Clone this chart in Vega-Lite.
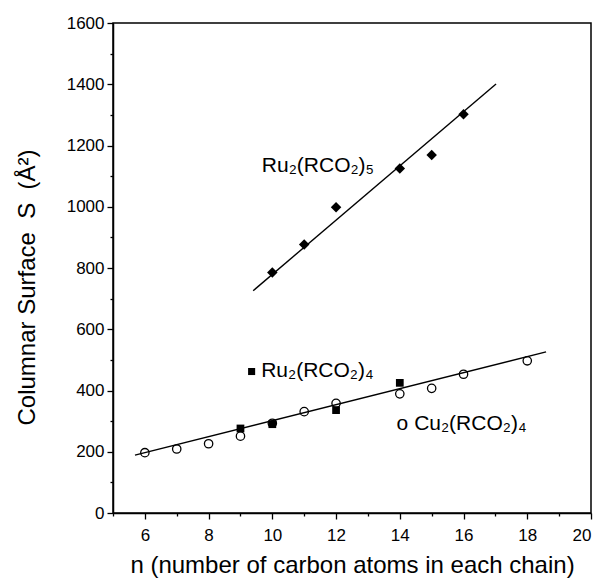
{
  "$schema": "https://vega.github.io/schema/vega-lite/v6.json",
  "width": 478,
  "height": 490,
  "autosize": {"type": "none"},
  "padding": {"left": 113, "top": 23, "right": 12, "bottom": 67},
  "background": "white",
  "config": {
    "font": "Liberation Sans",
    "view": {"stroke": "black", "strokeWidth": 1.5},
    "axis": {"domainColor": "black", "tickColor": "black", "labelColor": "black", "titleColor": "black", "grid": false, "domainWidth": 1.5, "tickWidth": 1.3}
  },
  "resolve": {"axis": {"x": "independent", "y": "independent"}},
  "datasets": {
    "pts": [
      {"n": 10, "S": 785, "series": "Ru2(RCO2)5"},
      {"n": 11, "S": 877, "series": "Ru2(RCO2)5"},
      {"n": 12, "S": 998, "series": "Ru2(RCO2)5"},
      {"n": 14, "S": 1125, "series": "Ru2(RCO2)5"},
      {"n": 15, "S": 1169, "series": "Ru2(RCO2)5"},
      {"n": 16, "S": 1302, "series": "Ru2(RCO2)5"},
      {"n": 9, "S": 276, "series": "Ru2(RCO2)4"},
      {"n": 10, "S": 290, "series": "Ru2(RCO2)4"},
      {"n": 12, "S": 336, "series": "Ru2(RCO2)4"},
      {"n": 14, "S": 425, "series": "Ru2(RCO2)4"},
      {"n": 6, "S": 197, "series": "Cu2(RCO2)4"},
      {"n": 7, "S": 209, "series": "Cu2(RCO2)4"},
      {"n": 8, "S": 226, "series": "Cu2(RCO2)4"},
      {"n": 9, "S": 251, "series": "Cu2(RCO2)4"},
      {"n": 10, "S": 293, "series": "Cu2(RCO2)4"},
      {"n": 11, "S": 331, "series": "Cu2(RCO2)4"},
      {"n": 12, "S": 358, "series": "Cu2(RCO2)4"},
      {"n": 14, "S": 389, "series": "Cu2(RCO2)4"},
      {"n": 15, "S": 407, "series": "Cu2(RCO2)4"},
      {"n": 16, "S": 453, "series": "Cu2(RCO2)4"},
      {"n": 18, "S": 497, "series": "Cu2(RCO2)4"}
    ],
    "fits": [
      {"n": 9.4, "S": 726, "fit": "upper"},
      {"n": 17.02, "S": 1401, "fit": "upper"},
      {"n": 5.69, "S": 189, "fit": "lower"},
      {"n": 18.59, "S": 526, "fit": "lower"}
    ],
    "labels": [
      {"n": 9.67, "S": 1114, "label": "Ru₂(RCO₂)₅"},
      {"n": 9.65, "S": 445, "label": "Ru₂(RCO₂)₄"},
      {"n": 13.9, "S": 271, "label": "o Cu₂(RCO₂)₄"}
    ],
    "legendsq": [
      {"n": 9.35, "S": 462}
    ]
  },
  "layer": [
    {
      "data": {"name": "fits"},
      "mark": {"type": "line", "color": "black", "strokeWidth": 1.4},
      "encoding": {
        "x": {"field": "n", "type": "quantitative", "scale": {"domain": [5, 20], "nice": false},
          "axis": {"orient": "bottom", "values": [6, 8, 10, 12, 14, 16, 18, 20], "labelOverlap": false,
            "tickSize": 6,
            "title": "n (number of carbon atoms in each chain)", "titleFontSize": 24, "titleFontWeight": "normal", "labelFontSize": 17, "labelPadding": 8, "titlePadding": 10}},
        "y": {"field": "S", "type": "quantitative", "scale": {"domain": [0, 1600], "nice": false},
          "axis": {"orient": "left", "values": [0, 200, 400, 600, 800, 1000, 1200, 1400, 1600],
            "format": "d",
            "tickSize": 6,
            "title": "Columnar Surface\u00a0\u00a0S\u00a0\u00a0(Å²)", "titleFontSize": 24, "titleFontWeight": "normal", "labelFontSize": 17, "labelPadding": 3, "titleX": -74, "titleY": 264}},
        "detail": {"field": "fit"}
      }
    },
    {
      "data": {"name": "fits"},
      "mark": {"type": "line", "color": "black", "strokeWidth": 1.4, "opacity": 0},
      "encoding": {
        "x": {"field": "n", "type": "quantitative",
          "axis": {"orient": "bottom", "values": [5, 7, 9, 11, 13, 15, 17, 19], "labels": false, "title": null, "tickSize": 3, "domain": false}},
        "y": {"field": "S", "type": "quantitative",
          "axis": {"orient": "left", "values": [100, 300, 500, 700, 900, 1100, 1300, 1500], "labels": false, "title": null, "tickSize": 3, "domain": false}},
        "detail": {"field": "fit"}
      }
    },
    {
      "data": {"name": "pts"},
      "transform": [{"filter": "datum.series == 'Ru2(RCO2)4'"}],
      "mark": {"type": "point", "shape": "square", "filled": true, "color": "black", "size": 60, "opacity": 1},
      "encoding": {
        "x": {"field": "n", "type": "quantitative", "axis": null},
        "y": {"field": "S", "type": "quantitative", "axis": null}
      }
    },
    {
      "data": {"name": "pts"},
      "transform": [{"filter": "datum.series == 'Cu2(RCO2)4'"}],
      "mark": {"type": "point", "shape": "circle", "filled": false, "color": "black", "size": 70, "strokeWidth": 1.3, "opacity": 1},
      "encoding": {
        "x": {"field": "n", "type": "quantitative", "axis": null},
        "y": {"field": "S", "type": "quantitative", "axis": null}
      }
    },
    {
      "data": {"name": "pts"},
      "transform": [{"filter": "datum.series == 'Ru2(RCO2)5'"}],
      "mark": {"type": "point", "shape": "diamond", "filled": true, "color": "black", "size": 110, "opacity": 1},
      "encoding": {
        "x": {"field": "n", "type": "quantitative", "axis": null},
        "y": {"field": "S", "type": "quantitative", "axis": null}
      }
    },
    {
      "data": {"name": "legendsq"},
      "mark": {"type": "point", "shape": "square", "filled": true, "color": "black", "size": 50, "opacity": 1},
      "encoding": {
        "x": {"field": "n", "type": "quantitative", "axis": null},
        "y": {"field": "S", "type": "quantitative", "axis": null}
      }
    },
    {
      "data": {"name": "labels"},
      "mark": {"type": "text", "align": "left", "baseline": "alphabetic", "fontSize": 21, "color": "black"},
      "encoding": {
        "x": {"field": "n", "type": "quantitative", "axis": null},
        "y": {"field": "S", "type": "quantitative", "axis": null},
        "text": {"field": "label"}
      }
    }
  ]
}
